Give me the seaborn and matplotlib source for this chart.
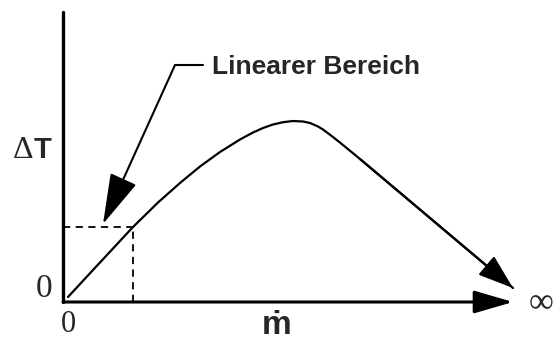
"""Temperaturdifferenz ueber Massenstrom (Skizze)"""
import matplotlib
matplotlib.use("Agg")
import matplotlib.pyplot as plt
import seaborn as sns
import pandas as pd

# curve (arbitrary units)
mass_flow = [0.5, 3.0, 7.0, 9.5, 11.7, 13.7, 15.7, 17.7, 19.0, 20.0,
             21.0, 22.0, 23.0, 24.0, 24.7, 25.5, 26.0, 27.0, 28.0, 29.7, 45.0]
delta_t = [0.5, 3.2, 7.5, 9.95, 11.9, 13.55, 15.0, 16.25, 16.95, 17.4,
           17.75, 17.98, 18.1, 18.05, 17.9, 17.55, 17.25, 16.5, 15.7, 14.3, 1.4]

linear_end_x = 7.0
linear_end_y = 7.5
x_axis_end = 45.0
y_axis_end = 29.0

label_text = "Linearer Bereich"

sns.set_theme(style="white")
fig = plt.figure(figsize=(5.53, 3.40), dpi=100)
ax = fig.add_axes([0, 0, 1, 1])
ax.set_xlim(-6.3, 49.0)
ax.set_ylim(-3.8, 30.2)
ax.axis("off")

df = pd.DataFrame({"m": mass_flow, "dT": delta_t})
sns.lineplot(data=df, x="m", y="dT", sort=False, color="black", lw=1.6, ax=ax)

# arrowhead at the end of the curve
ax.annotate("", xy=(mass_flow[-1], delta_t[-1]), xytext=(mass_flow[-2], delta_t[-2]),
            arrowprops=dict(arrowstyle="-|>,head_length=1.1,head_width=0.38",
                            mutation_scale=20, color="black", lw=1.6,
                            shrinkA=0, shrinkB=0))

# axes
ax.plot([0, 0], [0, y_axis_end], color="black", lw=2.4)
ax.annotate("", xy=(x_axis_end, 0), xytext=(0, 0),
            arrowprops=dict(arrowstyle="-|>,head_length=1.2,head_width=0.35",
                            mutation_scale=20, color="black", lw=2.2,
                            shrinkA=0, shrinkB=0))

# dashed guides of the linear region
ax.plot([0, linear_end_x], [linear_end_y, linear_end_y], color="black", lw=1.3, ls=(0, (4, 3)))
ax.plot([linear_end_x, linear_end_x], [0, linear_end_y], color="black", lw=1.3, ls=(0, (4, 3)))

# leader with label
ax.plot([11.2, 14.0], [23.7, 23.7], color="black", lw=1.5)
ax.annotate("", xy=(4.0, 7.8), xytext=(11.2, 23.7),
            arrowprops=dict(arrowstyle="-|>,head_length=1.6,head_width=0.45",
                            mutation_scale=20, color="black", lw=1.5,
                            shrinkA=0, shrinkB=0))
ax.text(14.9, 23.5, label_text, fontsize=19, fontweight="bold",
        family=["Liberation Sans", "DejaVu Sans"], ha="left", va="center")

# axis labels
serif = ["Liberation Serif", "DejaVu Serif"]
ax.text(-4.0, 15.2, "Δ", fontsize=23, family=serif, ha="center", va="center")
ax.text(-2.0, 15.2, "T", fontsize=21, fontweight="bold",
        family=["Liberation Sans", "DejaVu Sans"], ha="center", va="center")
ax.text(-1.9, 1.3, "0", fontsize=24, family=serif, ha="center", va="center")
ax.text(0.5, -3.7, "0", fontsize=22, family=serif, ha="center", va="bottom")
ax.text(21.4, -2.4, "ṁ", fontsize=24, fontweight="bold",
        family=["Liberation Sans", "DejaVu Sans"], ha="center", va="center")
ax.text(47.8, -0.2, "∞", fontsize=25, family=serif, ha="center", va="center")

fig.savefig("out.png", dpi=100)
